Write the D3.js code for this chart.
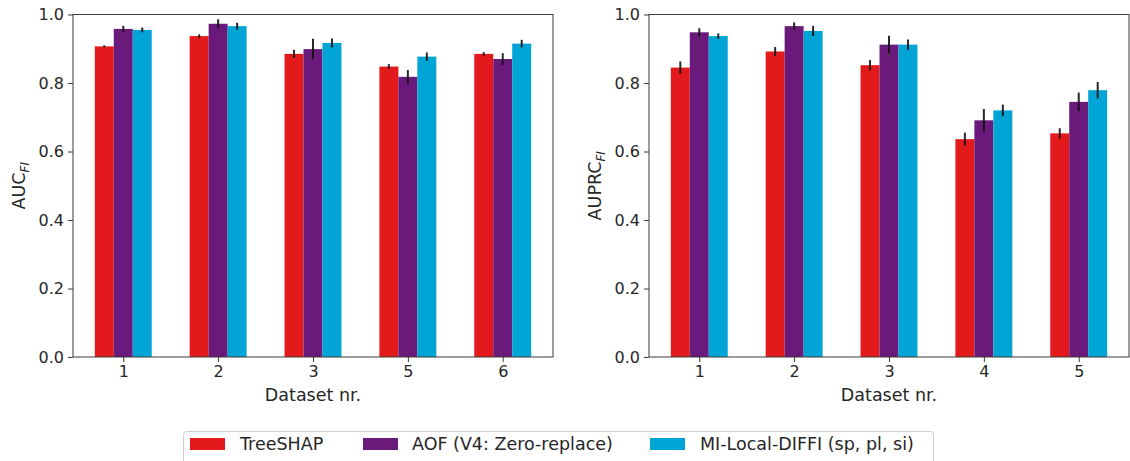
<!DOCTYPE html>
<html>
<head>
<meta charset="utf-8">
<script src="https://cdn.jsdelivr.net/npm/d3@7"></script>
<style>
  html, body { margin: 0; padding: 0; background: #fff; }
  svg { display: block; font-family: "DejaVu Sans", sans-serif; }
</style>
</head>
<body>
<svg id="chart" width="1130" height="461"></svg>
<script>
// Methods compared in each panel
const methods = ["TreeSHAP", "AOF (V4: Zero-replace)", "MI-Local-DIFFI (sp, pl, si)"];
const colors = ["#e31a1c", "#6a1a7a", "#00a5d6"];

// Left panel: AUC_FI per dataset
const aucDatasets = ["1", "2", "3", "5", "6"];
const aucTreeShap = [0.907, 0.937, 0.885, 0.848, 0.885];
const aucTreeShapErr = [0.003, 0.005, 0.012, 0.007, 0.005];
const aucAof = [0.958, 0.973, 0.899, 0.818, 0.870];
const aucAofErr = [0.009, 0.013, 0.030, 0.020, 0.017];
const aucDiffi = [0.955, 0.966, 0.917, 0.877, 0.915];
const aucDiffiErr = [0.007, 0.010, 0.013, 0.012, 0.011];

// Right panel: AUPRC_FI per dataset
const prcDatasets = ["1", "2", "3", "4", "5"];
const prcTreeShap = [0.845, 0.892, 0.852, 0.636, 0.653];
const prcTreeShapErr = [0.018, 0.013, 0.015, 0.019, 0.015];
const prcAof = [0.948, 0.966, 0.912, 0.691, 0.745];
const prcAofErr = [0.012, 0.011, 0.026, 0.033, 0.027];
const prcDiffi = [0.937, 0.952, 0.912, 0.720, 0.779];
const prcDiffiErr = [0.008, 0.015, 0.015, 0.017, 0.024];

const yTicks = [0.0, 0.2, 0.4, 0.6, 0.8, 1.0];

const svg = d3.select("#chart");
const textColor = "#262626";
const spineColor = "#3a3a3a";

function panel(left, labelMain, labelSub, cats, vals, errs) {
  const top = 14.5, bottom = 357, width = 480;
  const barW = 0.2;
  // matplotlib-style x limits: bar extent plus 5% margin
  const lo = -0.3, hi = cats.length - 1 + 0.3;
  const pad = (hi - lo) * 0.05;
  const x = d3.scaleLinear().domain([lo - pad, hi + pad]).range([left, left + width]);
  const y = d3.scaleLinear().domain([0, 1]).range([bottom, top]);

  const g = svg.append("g");

  // bars per method
  vals.forEach((series, m) => {
    const off = (m - 1) * barW;
    g.append("g").selectAll("rect").data(series).join("rect")
      .attr("x", (d, i) => x(i + off - barW / 2))
      .attr("width", (d, i) => x(i + off + barW / 2) - x(i + off - barW / 2))
      .attr("y", d => y(d))
      .attr("height", d => y(0) - y(d))
      .attr("fill", colors[m]);
  });

  // error bars
  vals.forEach((series, m) => {
    const off = (m - 1) * barW;
    g.append("g").selectAll("line").data(series).join("line")
      .attr("x1", (d, i) => x(i + off))
      .attr("x2", (d, i) => x(i + off))
      .attr("y1", (d, i) => y(d - errs[m][i]))
      .attr("y2", (d, i) => y(d + errs[m][i]))
      .attr("stroke", "#111")
      .attr("stroke-opacity", 0.9)
      .attr("stroke-width", 2);
  });

  // frame
  g.append("rect")
    .attr("x", left).attr("y", top)
    .attr("width", width).attr("height", bottom - top)
    .attr("fill", "none").attr("stroke", spineColor).attr("stroke-width", 1);

  // y axis
  const ya = g.append("g").attr("transform", `translate(${left},0)`)
    .call(d3.axisLeft(y).tickValues(yTicks).tickFormat(d3.format(".1f")).tickSize(5).tickPadding(4));
  ya.select(".domain").remove();
  ya.selectAll("line").attr("stroke", spineColor);
  ya.selectAll("text").attr("fill", textColor).style("font-size", "16px")
    .style("font-family", "DejaVu Sans");

  // x axis
  const xa = g.append("g").attr("transform", `translate(0,${bottom})`)
    .call(d3.axisBottom(x).tickValues(d3.range(cats.length)).tickFormat(i => cats[i]).tickSize(5).tickPadding(4));
  xa.select(".domain").remove();
  xa.selectAll("line").attr("stroke", spineColor);
  xa.selectAll("text").attr("fill", textColor).style("font-size", "16px")
    .style("font-family", "DejaVu Sans");

  // x label
  g.append("text")
    .attr("x", left + width / 2).attr("y", 401)
    .attr("text-anchor", "middle")
    .attr("fill", textColor)
    .style("font-size", "17.5px")
    .text("Dataset nr.");

  // y label with italic subscript
  const yl = g.append("text")
    .attr("transform", `translate(${left - 48},${(top + bottom) / 2}) rotate(-90)`)
    .attr("text-anchor", "middle")
    .attr("fill", textColor)
    .style("font-size", "17.5px");
  yl.append("tspan").text(labelMain);
  yl.append("tspan").attr("dy", 4).style("font-size", "12px").style("font-style", "italic").text(labelSub);
}

panel(73, "AUC", "FI", aucDatasets,
  [aucTreeShap, aucAof, aucDiffi], [aucTreeShapErr, aucAofErr, aucDiffiErr]);
panel(649, "AUPRC", "FI", prcDatasets,
  [prcTreeShap, prcAof, prcDiffi], [prcTreeShapErr, prcAofErr, prcDiffiErr]);

// legend below both panels
const leg = svg.append("g");
leg.append("rect")
  .attr("x", 183.5).attr("y", 431.5)
  .attr("width", 750).attr("height", 40)
  .attr("rx", 3)
  .attr("fill", "#fff").attr("stroke", "#d0d0d0").attr("stroke-width", 1);
const legItems = [
  { px: 190, tx: 240 },
  { px: 363, tx: 412 },
  { px: 650, tx: 700 }
];
methods.forEach((name, i) => {
  leg.append("rect")
    .attr("x", legItems[i].px).attr("y", 438)
    .attr("width", 35).attr("height", 12)
    .attr("fill", colors[i]);
  leg.append("text")
    .attr("x", legItems[i].tx).attr("y", 450)
    .attr("fill", textColor)
    .style("font-size", "17.5px")
    .text(name);
});
</script>
</body>
</html>
